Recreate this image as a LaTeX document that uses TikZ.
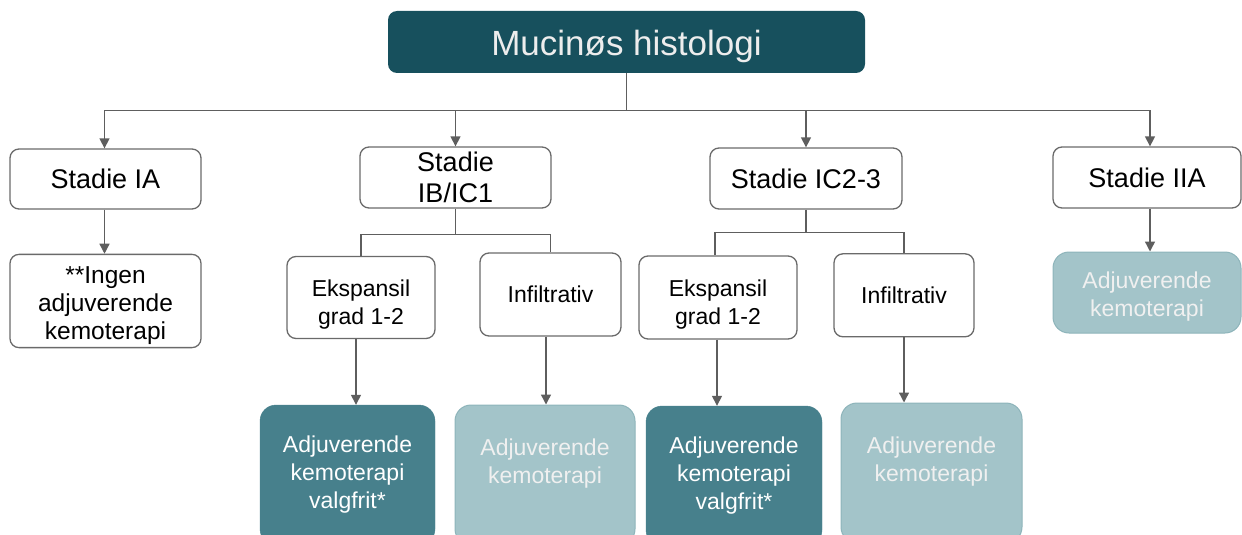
\documentclass[tikz,border=0pt]{standalone}
\usepackage{fontspec}
\setmainfont{Liberation Sans}
\usetikzlibrary{arrows.meta,positioning,calc}
\definecolor{titleteal}{HTML}{17505D}
\definecolor{midteal}{HTML}{47808C}
\definecolor{paleteal}{HTML}{A3C4C9}
\definecolor{paleedge}{HTML}{8DB4BA}
\definecolor{boxedge}{HTML}{6A6A6A}
\definecolor{linkgray}{HTML}{5E5E5E}
\newcommand{\topgap}[1]{\rule{0pt}{#1}}

\begin{document}
\begin{tikzpicture}[x=1pt,y=-1pt,
    whitebox/.style={draw=boxedge,line width=1.3pt,fill=white,rounded corners=9pt,align=center},
    stagebox/.style={whitebox,font=\fontsize{27}{31}\selectfont},
    subbox/.style={whitebox,font=\fontsize{23}{28}\selectfont},
    darkbox/.style={draw=midteal,fill=midteal,text=white,rounded corners=16pt,align=center,
      minimum height=140pt,font=\fontsize{23}{28}\selectfont},
    palebox/.style={draw=paleedge,line width=1pt,fill=paleteal,text=white!94!black,rounded corners=16pt,align=center,
      font=\fontsize{23}{28}\selectfont},
    link/.style={draw=linkgray,line width=1.4pt},
    arrow/.style={link,-{Triangle[width=10pt,length=10pt]}}]
  \useasboundingbox (0,0) rectangle (1242,535);
  \clip (0,0) rectangle (1242,535);

  % top
  \node (title) at (626.5,42) [fill=titleteal,rounded corners=9pt,minimum width=477pt,minimum height=62pt,
    text=white!93!black,font=\fontsize{35}{40}\selectfont] {\topgap{34pt}Mucinøs histologi};

  % stages
  \node (ia)  at (105.5,179)  [stagebox,minimum width=191pt,minimum height=60pt] {Stadie IA};
  \node (ib)  at (455.5,177.5) [stagebox,minimum width=191pt,minimum height=61pt] {Stadie\\IB/IC1};
  \node (ic)  at (806,178.5)  [stagebox,minimum width=192pt,minimum height=61pt] {Stadie IC2-3};
  \node (iia) at (1147,177.5) [stagebox,minimum width=188pt,minimum height=61pt] {Stadie IIA};

  % second row
  \node (ingen) at (105.5,301)  [subbox,minimum width=191pt,minimum height=88pt,font=\fontsize{24.5}{28}\selectfont]
    {\topgap{25.5pt}**Ingen\\adjuverende\\kemoterapi};
  \node (ekspA) at (361,297.5)   [subbox,minimum width=148pt,minimum height=82pt] {\topgap{30pt}Ekspansil\\grad 1-2};
  \node (infA)  at (550.5,294.5) [subbox,minimum width=141pt,minimum height=83pt] {Infiltrativ};
  \node (ekspB) at (718,297.5)   [subbox,minimum width=158pt,minimum height=83pt] {\topgap{30pt}Ekspansil\\grad 1-2};
  \node (infB)  at (904,295.3)   [subbox,minimum width=140pt,minimum height=83pt] {Infiltrativ};
  \node (adjC)  at (1147,292.5)  [palebox,minimum width=188pt,minimum height=81pt] {\topgap{24.5pt}Adjuverende\\kemoterapi};

  % bottom row
  \node (valgA) at (347.5,475) [darkbox,minimum width=175pt] {Adjuverende\\kemoterapi\\valgfrit*};
  \node (adjA)  at (545,475)   [palebox,minimum width=180pt,minimum height=140pt] {Adjuverende\\kemoterapi\\~};
  \node (valgB) at (734,476)   [darkbox,minimum width=176pt] {Adjuverende\\kemoterapi\\valgfrit*};
  \node (adjB)  at (931.5,473) [palebox,minimum width=181pt,minimum height=140pt] {Adjuverende\\kemoterapi\\~};

  % connectors
  \draw[link] (title.south) -- ++(0,37) coordinate (bus);
  \draw[arrow] (bus) -| ([xshift=-1pt]ia.north);
  \draw[arrow] (bus) -| (ib.north);
  \draw[arrow] (bus) -| (ic.north);
  \draw[arrow] (bus) -| ([xshift=3pt]iia.north);

  \draw[arrow] ([xshift=-1pt]ia.south) -- ([xshift=-1pt]ingen.north);
  \draw[arrow] ([xshift=3pt]iia.south) -- ([xshift=3pt]adjC.north);

  \draw[link] (ib.south) -- ++(0,26) coordinate (forkA);
  \draw[link] (forkA) -| (ekspA.north);
  \draw[link] (forkA) -| (infA.north);
  \draw[link] (ic.south) -- ++(0,23) coordinate (forkB);
  \draw[link] (forkB) -| ([xshift=-3pt]ekspB.north);
  \draw[link] (forkB) -| (infB.north);

  \draw[arrow] ([xshift=-5pt]ekspA.south) -- ([xshift=-5pt]ekspA.south |- valgA.north);
  \draw[arrow] ([xshift=-4.5pt]infA.south) -- ([xshift=-4.5pt]infA.south |- adjA.north);
  \draw[arrow] ([xshift=-1pt]ekspB.south) -- ([xshift=-1pt]ekspB.south |- valgB.north);
  \draw[arrow] (infB.south) -- (infB.south |- adjB.north);
\end{tikzpicture}
\end{document}
